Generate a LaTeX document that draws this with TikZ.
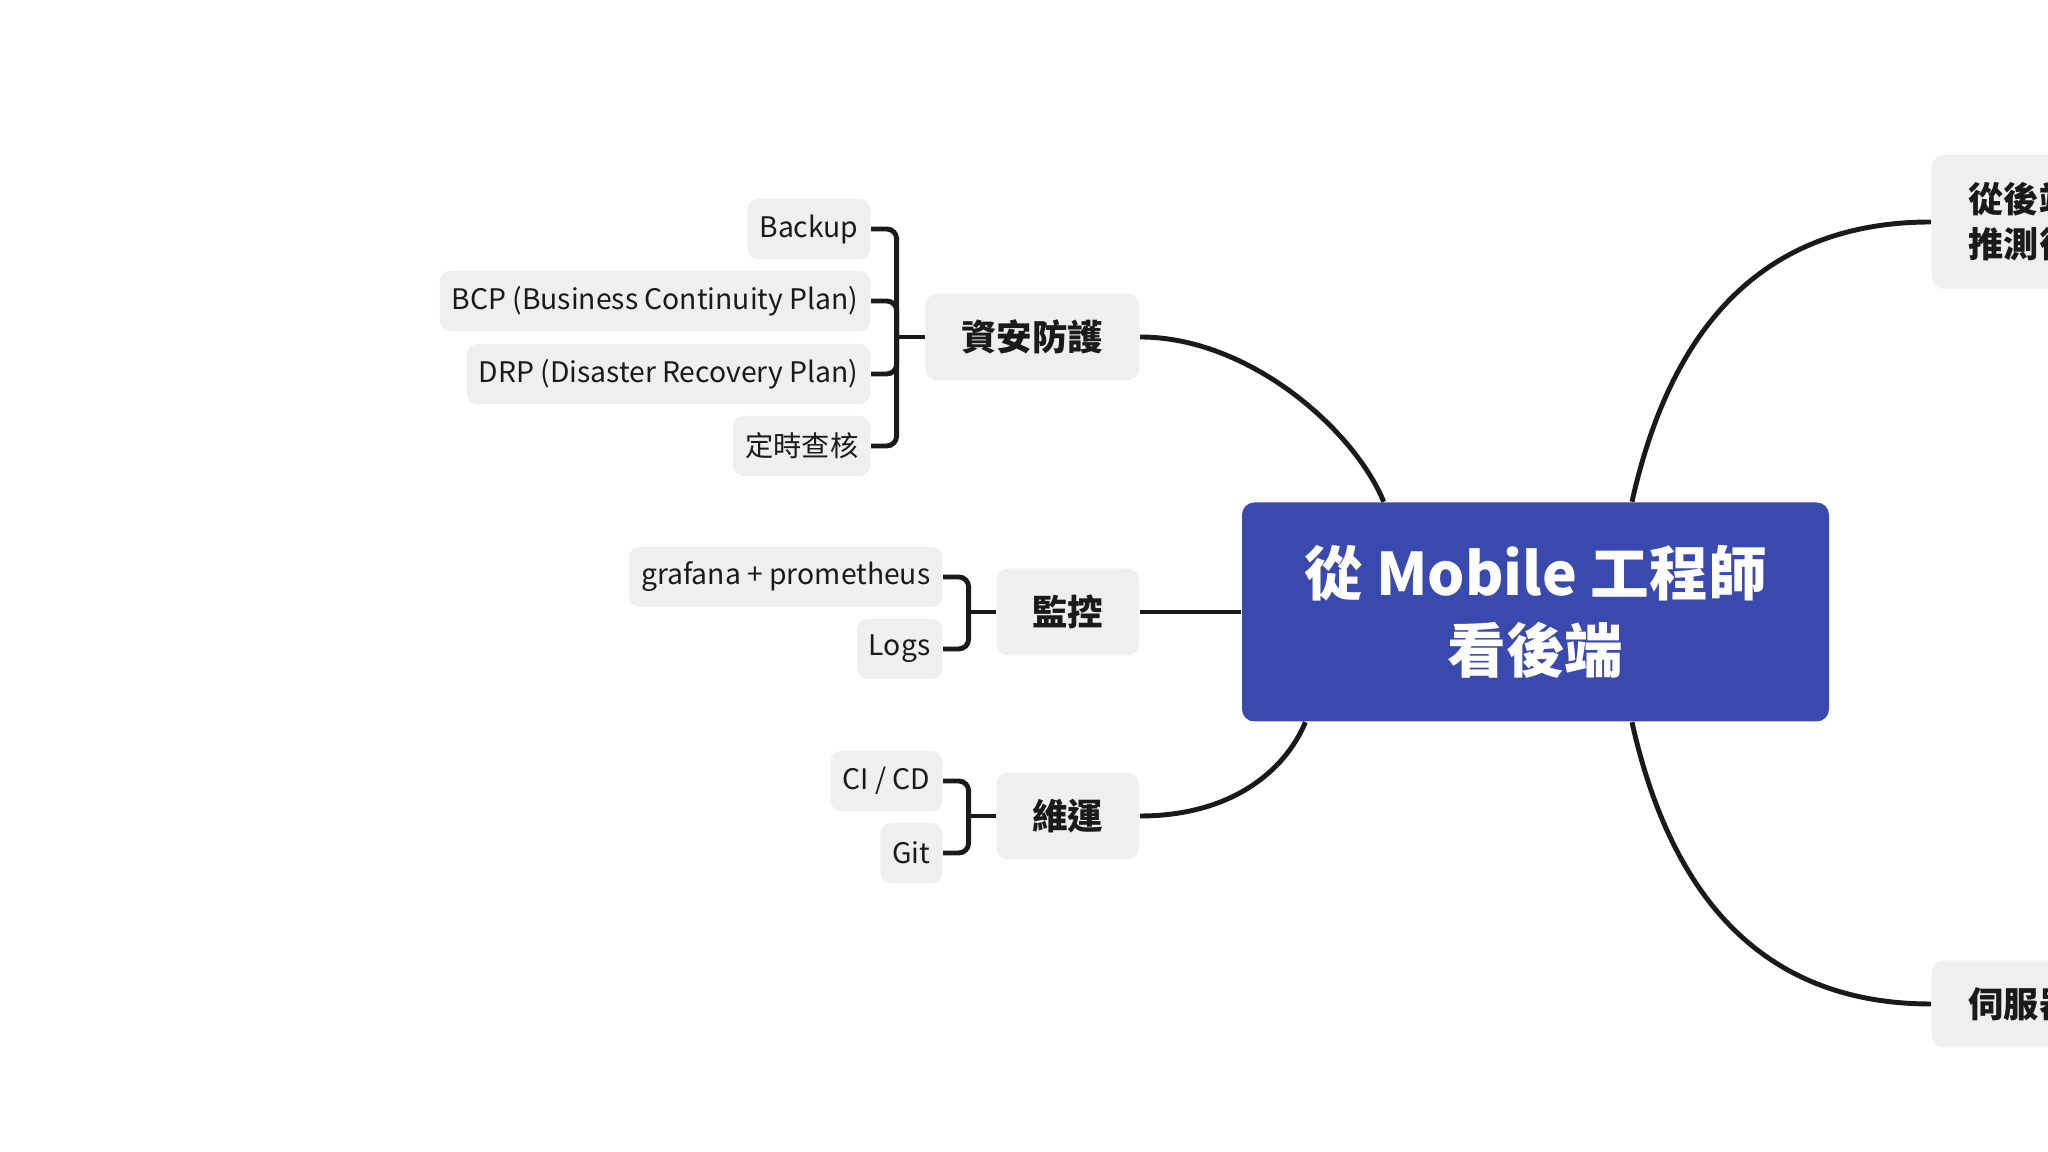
\documentclass[tikz,border=0pt]{standalone}
\usepackage{fontspec}
\setmainfont{Noto Sans CJK TC}
\usetikzlibrary{calc,backgrounds}
\definecolor{cInk}{HTML}{1A1A1A}
\definecolor{cBox}{HTML}{EFEFEF}
\definecolor{cRoot}{HTML}{3A49AE}
\tikzset{
  every node/.style={text=cInk},
  leaf/.style={fill=cBox, rounded corners=3pt, minimum height=0.6cm, inner xsep=0.12cm, inner ysep=0pt, anchor=east,
     font=\fontsize{8.05}{9}\selectfont},
  topic/.style={fill=cBox, rounded corners=3.5pt, minimum height=0.87cm, inner xsep=0.36cm, inner ysep=0pt, anchor=east,
     font=\fontsize{10.1}{12}\selectfont\bfseries},
  side/.style={topic, anchor=west, align=left, inner xsep=0.37cm, font=\fontsize{10}{12.8}\selectfont\bfseries},
  root/.style={fill=cRoot, rounded corners=3.5pt, text=white, minimum width=5.87cm, minimum height=2.19cm, align=center,
     font=\fontsize{16.7}{22.1}\selectfont\bfseries},
  br/.style={draw=cInk, line width=1.4pt, rounded corners=2.8pt},
  link/.style={draw=cInk, line width=1.4pt},
}

\begin{document}
\begin{tikzpicture}
\useasboundingbox (0,0) rectangle (20.48,11.52);
\node[root] (root) at (15.355,5.40) {從 Mobile 工程師\\看後端};
\node[topic] (sec) at (11.40,8.15) {資安防護};
\node[topic] (mon) at (11.40,5.40) {監控};
\node[topic] (ops) at (11.40,3.36) {維運};
\node[side, minimum height=1.34cm] (arch) at (19.31,9.30) {從後端\\推測後};
\node[side] (srv) at (19.31,1.48) {伺服器};
\node[leaf] (bk) at (8.71,9.23) {Backup};
\node[leaf] (bcp) at (8.71,8.51) {BCP (Business Continuity Plan)};
\node[leaf] (drp) at (8.71,7.78) {DRP (Disaster Recovery Plan)};
\node[leaf] (aud) at (8.71,7.06) {定時查核};
\node[leaf] (graf) at (9.43,5.75) {grafana + prometheus};
\node[leaf] (logs) at (9.43,5.03) {Logs};
\node[leaf] (cicd) at (9.43,3.71) {CI / CD};
\node[leaf] (git) at (9.43,2.99) {Git};
\coordinate (jSec) at ([xshift=-2.8mm]sec.west);
\coordinate (jMon) at ([xshift=-2.7mm]mon.west);
\coordinate (jOps) at ([xshift=-2.7mm]ops.west);
\begin{scope}[on background layer]
% brackets
\foreach \l in {bk,bcp,drp,aud} \draw[br] (\l.east) -| (jSec);
\foreach \l in {graf,logs} \draw[br] (\l.east) -| (jMon);
\foreach \l in {cicd,git} \draw[br] (\l.east) -| (jOps);
\draw[link] (jSec) -- (sec.west);
\draw[link] (jMon) -- (mon.west);
\draw[link] (jOps) -- (ops.west);
% branches
\draw[link] (sec.east) .. controls ++(1.1,0) and ++(-0.29,0.71) .. ($(root.north west)!0.242!(root.north east)$);
\draw[link] (mon.east) -- (root.west);
\draw[link] (ops.east) .. controls ++(0.9,0) and ++(-0.21,-0.5) .. ($(root.south west)!0.109!(root.south east)$);
\draw[link] ($(root.north west)!0.664!(root.north east)$) .. controls ++(0.38,1.71) and ++(-1.71,0) .. (arch.west);
\draw[link] ($(root.south west)!0.664!(root.south east)$) .. controls ++(0.38,-1.71) and ++(-1.71,0) .. (srv.west);
\end{scope}
\end{tikzpicture}
\end{document}
